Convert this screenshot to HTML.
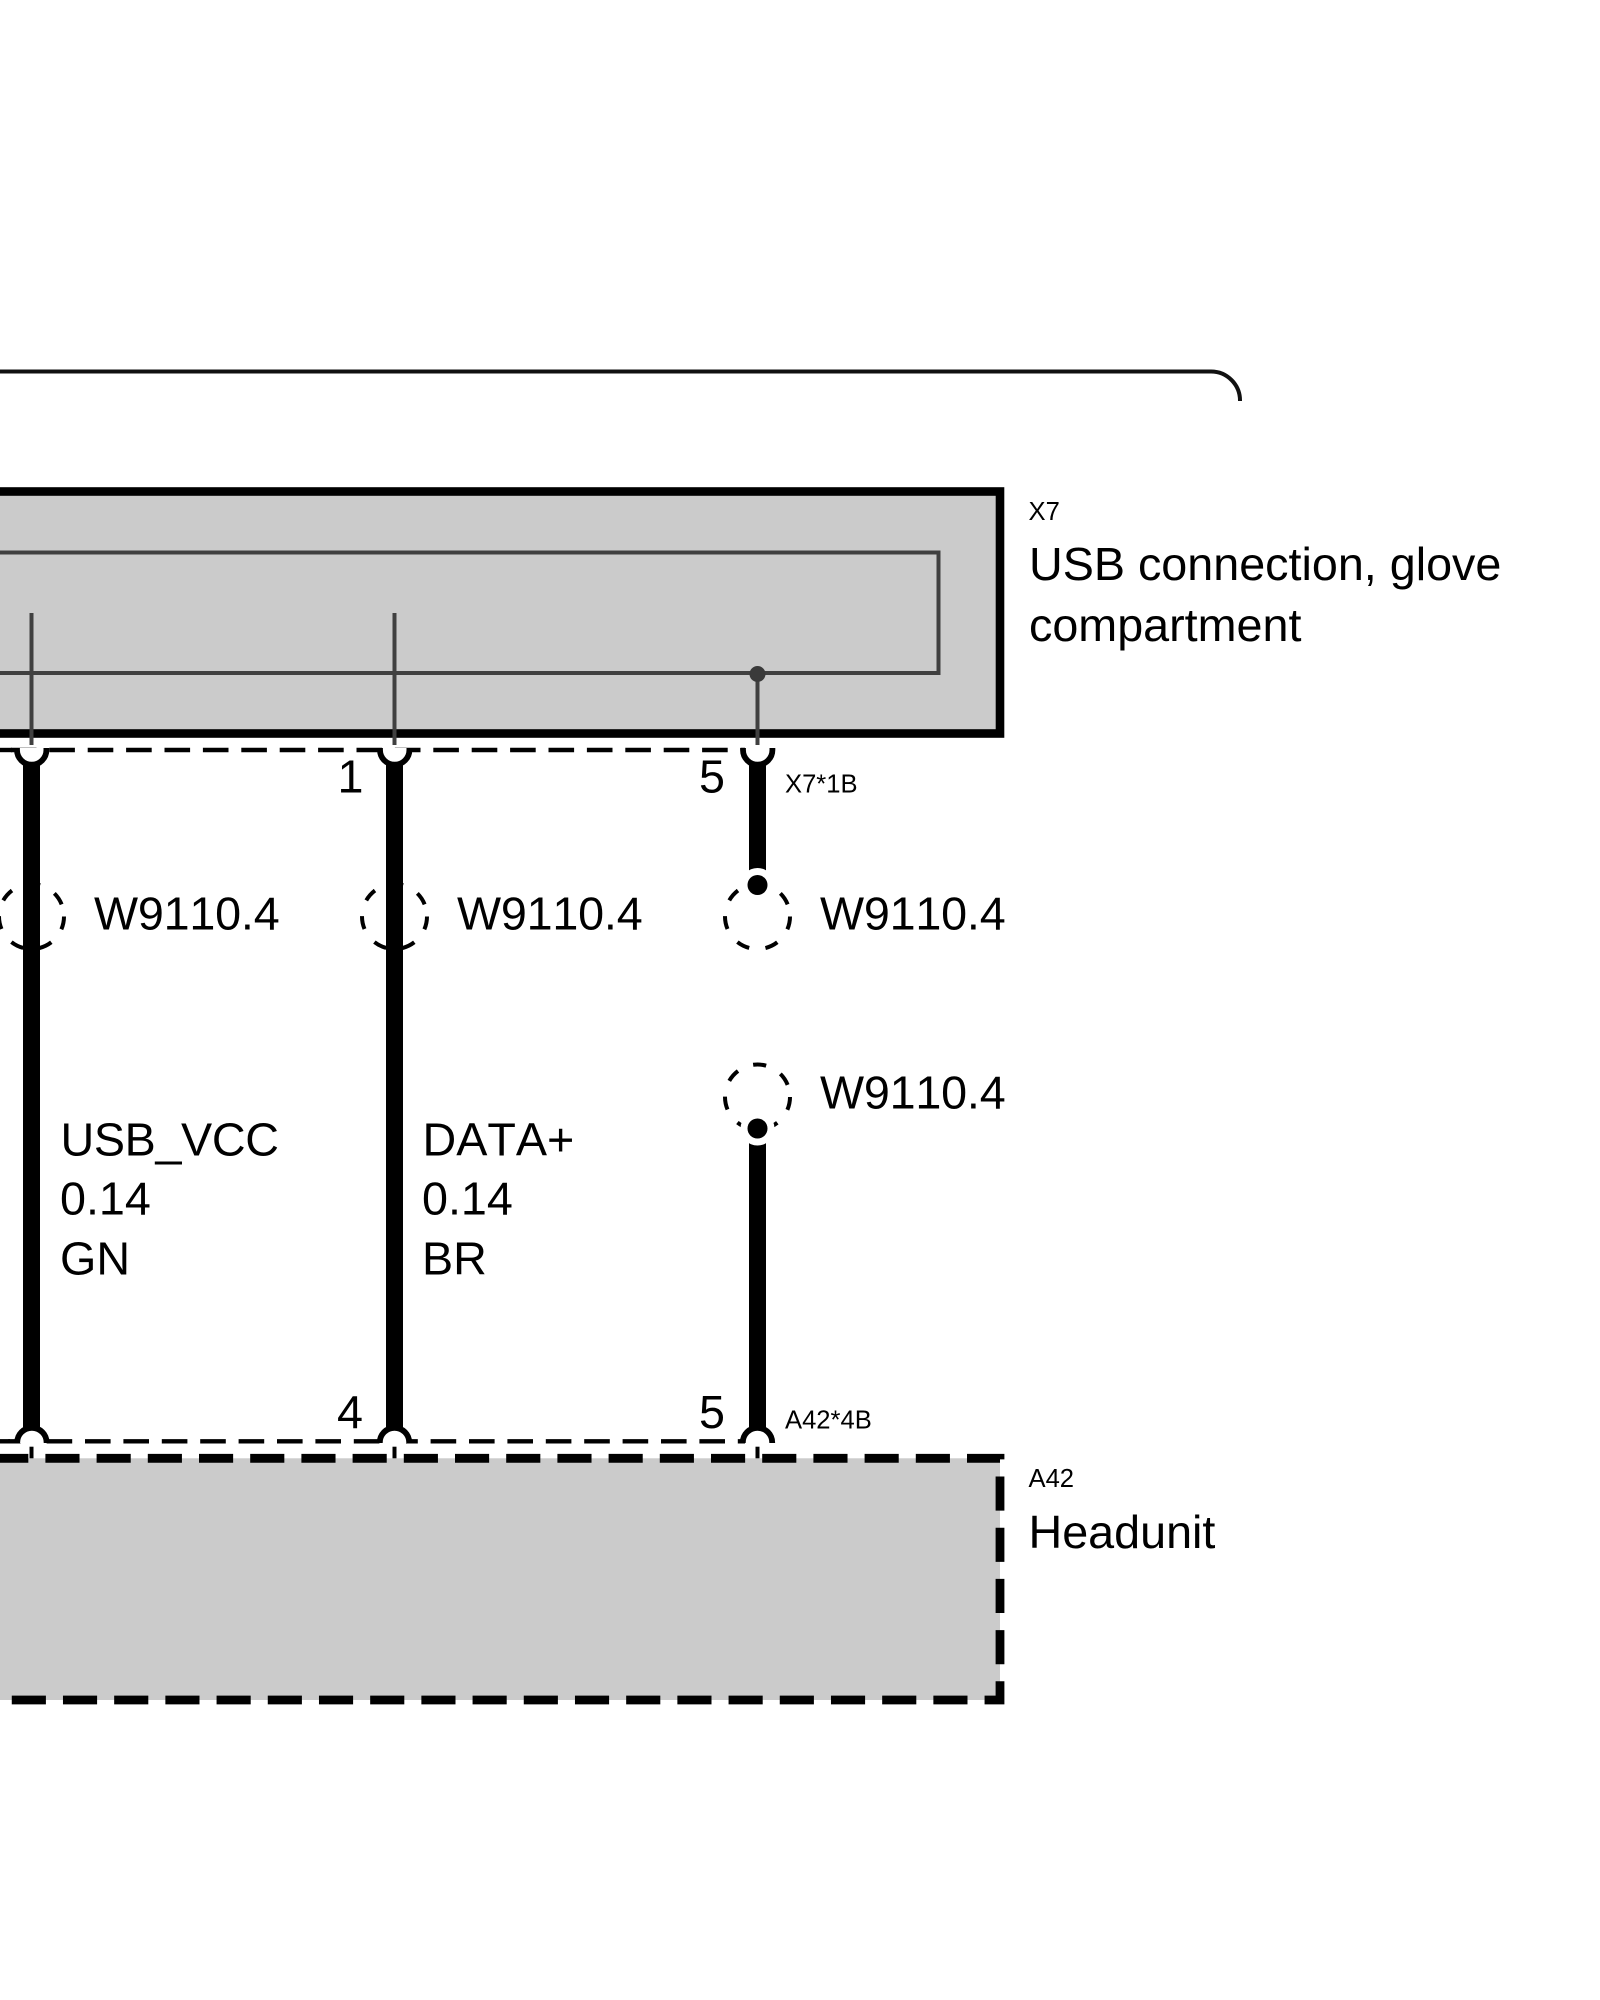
<!DOCTYPE html>
<html lang="en">
<head>
<meta charset="utf-8">
<title>Wiring diagram</title>
<style>
html,body{margin:0;padding:0;background:#fff;width:1600px;height:2000px;overflow:hidden}
svg{display:block}
text{font-family:"Liberation Sans",Arial,sans-serif;fill:#000;font-kerning:none}
.b{font-size:46.7px}
.s{font-size:25.6px}
.w{letter-spacing:-0.2px}
.u{letter-spacing:-0.35px}
</style>
</head>
<body>
<svg width="1600" height="2000" viewBox="0 0 1600 2000" xmlns="http://www.w3.org/2000/svg">
<rect width="1600" height="2000" fill="#fff"/>

<!-- brace -->
<path d="M-10 371.5H1211A29 29 0 0 1 1240 401" fill="none" stroke="#111" stroke-width="4"/>

<!-- X7 box -->
<rect x="-20" y="491.5" width="1020" height="242" fill="#cbcbcb" stroke="#000" stroke-width="8.6"/>
<path d="M-10 552.5H938.5V673H-10" fill="none" stroke="#404040" stroke-width="4"/>
<g stroke="#404040" stroke-width="4" fill="none">
<path d="M31.5 613V745"/>
<path d="M394.5 613V745"/>
<path d="M757.5 673V745"/>
</g>
<circle cx="757.5" cy="674" r="8" fill="#3a3a3a"/>

<!-- top dashed connector -->
<path d="M10.9 750H745" fill="none" stroke="#000" stroke-width="4.4" stroke-dasharray="25.6 12.8"/>
<rect x="0" y="747.8" width="12" height="4.4" fill="#000"/>

<!-- top sockets -->
<g fill="#fff" stroke="#000" stroke-width="5.8">
<path d="M17 748V750A14.7 14.7 0 0 0 46.4 750V748"/>
<path d="M380 748V750A14.7 14.7 0 0 0 409.4 750V748"/>
<path d="M743 748V750A14.7 14.7 0 0 0 772.4 750V748"/>
</g>
<g stroke="#404040" stroke-width="4" fill="none">
<path d="M31.5 738V745"/>
<path d="M394.5 738V745"/>
<path d="M757.5 738V745"/>
</g>

<!-- dashed circles -->
<g fill="none" stroke="#000" stroke-width="4" stroke-dasharray="13.2 16.5">
<circle cx="31.5" cy="916.5" r="32.5"/>
<circle cx="394.5" cy="916.5" r="32.5"/>
<circle cx="757.5" cy="916.5" r="32.5"/>
<circle cx="757.5" cy="1097" r="32.5"/>
</g>

<!-- thick wires -->
<g stroke="#000" stroke-width="17" fill="none">
<path d="M31.5 762V1430"/>
<path d="M394.5 762V1430"/>
<path d="M757.5 762V885"/>
<path d="M757.5 1128V1430"/>
</g>

<!-- break points -->
<circle cx="757.5" cy="885" r="17" fill="#fff"/>
<circle cx="757.5" cy="885" r="10" fill="#000"/>
<circle cx="757.5" cy="1128.5" r="17" fill="#fff"/>
<circle cx="757.5" cy="1128.5" r="10" fill="#000"/>

<!-- A42 box -->
<rect x="-10" y="1458.3" width="1010" height="241.7" fill="#cbcbcb"/>
<path d="M-5.8 1458.3H1000V1700H-100" fill="none" stroke="#000" stroke-width="8.8" stroke-dasharray="34.13 17.07"/>

<!-- bottom dashed connector -->
<path d="M8.2 1441.3H745" fill="none" stroke="#000" stroke-width="4.4" stroke-dasharray="25.6 12.8"/>
<rect x="0" y="1439.1" width="10" height="4.4" fill="#000"/>

<!-- bottom sockets -->
<g fill="#fff" stroke="#000" stroke-width="5.8">
<path d="M17.2 1443V1442.5A14.7 14.7 0 0 1 46.6 1442.5V1443"/>
<path d="M379.8 1443V1442.5A14.7 14.7 0 0 1 409.2 1442.5V1443"/>
<path d="M742.8 1443V1442.5A14.7 14.7 0 0 1 772.2 1442.5V1443"/>
</g>
<rect x="20.5" y="1443" width="23" height="6" fill="#fff"/>
<rect x="383" y="1443" width="23" height="6" fill="#fff"/>
<rect x="746" y="1443" width="23" height="6" fill="#fff"/>
<g stroke="#000" stroke-width="4" fill="none">
<path d="M31.5 1446.7V1458.3"/>
<path d="M394.5 1446.7V1458.3"/>
<path d="M757.5 1446.7V1458.3"/>
</g>

<!-- wire labels -->
<text class="b w" x="94" y="929.5">W9110.4</text>
<text class="b w" x="457" y="929.5">W9110.4</text>
<text class="b w" x="820" y="929.5">W9110.4</text>
<text class="b w" x="820" y="1108.5">W9110.4</text>

<text class="b u" x="60.5" y="1155.4">USB_VCC</text>
<text class="b" x="60" y="1214.5">0.14</text>
<text class="b" x="60" y="1274.7">GN</text>
<text class="b" x="422.5" y="1155.4">DATA+</text>
<text class="b" x="422" y="1214.5">0.14</text>
<text class="b" x="422" y="1274.7">BR</text>

<!-- pin numbers -->
<text class="b" x="337.5" y="792.7">1</text>
<text class="b" x="699" y="792.7">5</text>
<text class="b" x="337" y="1428">4</text>
<text class="b" x="699" y="1428">5</text>

<!-- small labels -->
<text class="s" x="785" y="792.7">X7*1B</text>
<text class="s" x="785" y="1428.6">A42*4B</text>
<text class="s" x="1028.5" y="520">X7</text>
<text class="s" x="1028.5" y="1487">A42</text>

<!-- component labels -->
<text class="b" x="1029" y="580">USB connection, glove</text>
<text class="b" x="1029" y="641">compartment</text>
<text class="b" x="1028.5" y="1548">Headunit</text>
</svg>
</body>
</html>
